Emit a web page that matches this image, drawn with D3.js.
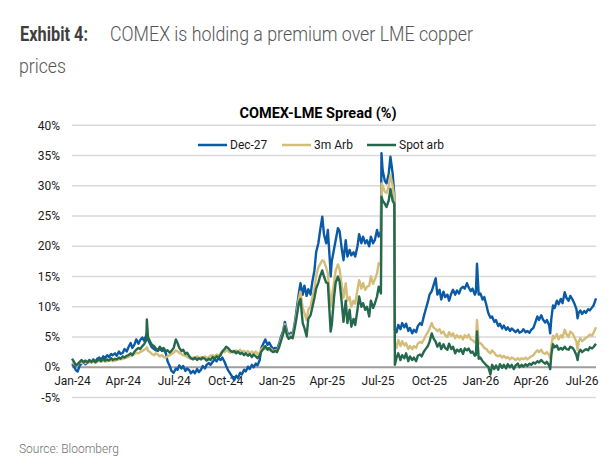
<!DOCTYPE html>
<html><head><meta charset="utf-8">
<script src="https://cdn.jsdelivr.net/npm/d3@7"></script>
<style>
html,body{margin:0;padding:0;background:#fff;}
svg{display:block;font-family:Roboto,"Noto Sans",sans-serif;}
</style></head>
<body><svg id="c" width="616" height="470"></svg>
<script>
// ---- data ----
const dates = [
 "2024-01-01","2024-01-04","2024-01-08","2024-01-11","2024-01-15","2024-01-18","2024-01-22","2024-01-25","2024-01-29","2024-02-01","2024-02-05","2024-02-08","2024-02-12","2024-02-15","2024-02-19","2024-02-22","2024-02-26","2024-02-29","2024-03-04","2024-03-07","2024-03-11","2024-03-14","2024-03-18","2024-03-21","2024-03-25","2024-03-28",
 "2024-04-01","2024-04-04","2024-04-08","2024-04-11","2024-04-15","2024-04-18","2024-04-22","2024-04-25","2024-04-29","2024-05-02","2024-05-06","2024-05-09","2024-05-13","2024-05-14","2024-05-16","2024-05-20","2024-05-23","2024-05-27","2024-05-30","2024-06-03","2024-06-06","2024-06-10","2024-06-13","2024-06-17","2024-06-20","2024-06-24","2024-06-27",
 "2024-07-01","2024-07-05","2024-07-08","2024-07-11","2024-07-15","2024-07-18","2024-07-22","2024-07-25","2024-07-29","2024-08-01","2024-08-05","2024-08-08","2024-08-12","2024-08-15","2024-08-19","2024-08-22","2024-08-26","2024-08-29","2024-09-02","2024-09-05","2024-09-09","2024-09-12","2024-09-16","2024-09-19","2024-09-23","2024-09-26","2024-09-30",
 "2024-10-03","2024-10-07","2024-10-10","2024-10-14","2024-10-17","2024-10-21","2024-10-24","2024-10-28","2024-10-31","2024-11-04","2024-11-07","2024-11-11","2024-11-14","2024-11-18","2024-11-21","2024-11-25","2024-11-28","2024-12-02","2024-12-05","2024-12-09","2024-12-12","2024-12-16","2024-12-19","2024-12-23","2024-12-26","2024-12-30","2025-01-02",
 "2025-01-06","2025-01-09","2025-01-13","2025-01-16","2025-01-20","2025-01-23","2025-01-27","2025-01-30","2025-02-03","2025-02-06","2025-02-10","2025-02-13","2025-02-17","2025-02-20","2025-02-24","2025-02-27","2025-03-03","2025-03-06","2025-03-10","2025-03-13","2025-03-17","2025-03-20","2025-03-24","2025-03-27","2025-03-31",
 "2025-04-03","2025-04-07","2025-04-08","2025-04-10","2025-04-14","2025-04-17","2025-04-21","2025-04-24","2025-04-28","2025-05-01","2025-05-05","2025-05-08","2025-05-12","2025-05-15","2025-05-19","2025-05-22","2025-05-26","2025-05-29","2025-06-02","2025-06-05","2025-06-09","2025-06-12","2025-06-16","2025-06-19","2025-06-23","2025-06-26","2025-06-30","2025-07-03","2025-07-07",
 "2025-07-08","2025-07-10","2025-07-14","2025-07-17","2025-07-21","2025-07-24","2025-07-28","2025-07-31","2025-08-01","2025-08-04","2025-08-07","2025-08-11","2025-08-14","2025-08-18","2025-08-21","2025-08-25","2025-08-28","2025-09-01","2025-09-04","2025-09-08","2025-09-11","2025-09-15","2025-09-18","2025-09-22","2025-09-25","2025-09-29",
 "2025-10-02","2025-10-06","2025-10-09","2025-10-13","2025-10-16","2025-10-20","2025-10-23","2025-10-27","2025-10-30","2025-11-03","2025-11-06","2025-11-10","2025-11-13","2025-11-17","2025-11-20","2025-11-24","2025-11-27","2025-12-01","2025-12-04","2025-12-08","2025-12-11","2025-12-15","2025-12-18","2025-12-22","2025-12-24","2025-12-26","2025-12-29",
 "2026-01-01","2026-01-05","2026-01-08","2026-01-12","2026-01-15","2026-01-19","2026-01-22","2026-01-26","2026-01-29","2026-02-02","2026-02-05","2026-02-09","2026-02-12","2026-02-16","2026-02-19","2026-02-23","2026-02-26","2026-03-02","2026-03-05","2026-03-09","2026-03-12","2026-03-16","2026-03-19","2026-03-23","2026-03-26","2026-03-30",
 "2026-04-02","2026-04-06","2026-04-09","2026-04-13","2026-04-16","2026-04-20","2026-04-23","2026-04-27","2026-04-30","2026-05-04","2026-05-06","2026-05-08","2026-05-11","2026-05-14","2026-05-18","2026-05-21","2026-05-25","2026-05-28","2026-06-01","2026-06-04","2026-06-08","2026-06-11","2026-06-15","2026-06-18","2026-06-22","2026-06-24","2026-06-26","2026-06-29","2026-07-02","2026-07-06","2026-07-09","2026-07-13","2026-07-16","2026-07-20","2026-07-23","2026-07-27"
];
const dec27 = [
 0.5,0.2,-0.5,-0.7,0.3,0.6,0.9,0.5,0.8,1.2,0.8,1.3,0.9,1.4,1.6,1.2,1.8,1.5,2.0,1.7,2.2,2.0,2.3,1.9,2.6,2.2,
 2.4,3.0,2.6,3.3,4.0,3.2,3.8,4.6,3.9,4.5,4.9,4.4,5.3,5.6,4.6,3.8,3.3,3.0,2.8,2.7,3.1,2.7,2.9,2.3,1.0,0.2,-0.6,
 -0.9,-0.2,-0.4,0.3,-0.2,0.2,-0.6,-0.2,-0.5,-1.0,-0.6,-1.0,-0.3,-0.8,-0.4,0.2,-0.2,0.4,0.7,0.4,0.9,1.3,1.0,1.5,1.2,1.6,0.9,
 0.2,-0.6,-1.0,-1.6,-2.1,-1.4,-1.8,-0.9,-1.2,-0.4,-0.7,0.1,-0.3,0.4,0.0,0.6,0.3,1.2,3.2,4.0,4.6,3.7,4.1,3.4,3.0,3.2,2.9,
 4.0,5.0,6.0,7.5,5.9,5.2,5.7,5.3,7.5,9.5,12.2,13.9,12.0,13.5,11.8,12.9,12.0,14.0,16.0,19.0,20.5,22.5,24.9,22.0,20.5,
 22.7,17.0,15.0,17.5,19.5,21.0,23.0,22.5,19.5,17.7,21.0,18.3,19.4,18.5,19.0,18.3,20.0,22.0,20.5,21.6,20.5,21.0,20.0,21.6,20.5,21.0,22.7,21.6,22.5,
 35.4,32.6,30.8,30.4,32.0,34.8,32.0,28.5,6.2,5.8,7.0,6.3,7.3,6.6,7.2,6.0,6.5,5.6,6.2,5.8,6.8,7.3,7.0,8.5,9.5,10.8,
 12.0,12.6,13.5,14.7,12.0,12.8,11.2,12.5,11.6,12.0,11.0,12.2,12.8,12.0,12.7,12.2,13.0,13.3,13.0,13.9,13.2,12.6,13.0,12.0,12.4,17.1,12.0,
 12.2,11.2,11.6,10.2,9.0,8.2,8.4,7.5,7.8,6.8,7.2,6.4,6.9,6.2,6.6,6.0,6.4,6.1,5.8,6.2,5.7,5.9,6.3,5.8,6.0,5.7,
 6.2,6.5,7.3,8.4,7.8,8.6,7.9,7.4,7.8,7.0,5.6,8.0,10.2,9.8,11.0,10.4,11.3,10.6,12.4,11.5,11.0,11.8,11.2,10.6,9.6,8.1,9.0,9.4,8.8,9.3,9.0,9.6,9.4,9.9,10.3,11.4
];
const arb3m = [
 0.8,0.6,0.4,0.6,0.9,0.7,0.8,0.7,0.9,0.8,1.0,0.9,0.8,1.0,1.0,0.9,1.1,0.9,1.0,1.1,1.2,1.0,1.1,1.2,1.3,1.3,
 1.4,1.5,1.6,1.7,1.9,2.0,2.2,2.4,2.3,2.5,2.7,2.9,3.1,3.3,2.7,2.5,2.2,2.0,2.3,2.1,1.8,2.0,1.7,1.6,1.8,2.0,2.2,
 2.4,2.8,2.6,2.4,2.2,2.0,1.9,1.7,1.5,1.4,1.6,1.4,1.8,1.5,1.7,1.5,1.8,1.5,1.7,1.9,2.0,1.8,2.1,1.9,2.3,2.6,2.5,
 2.8,2.6,2.4,2.7,2.4,2.8,2.5,2.9,2.5,2.7,2.4,2.7,2.3,2.6,2.3,2.6,2.2,2.4,3.0,3.3,3.0,3.2,2.8,3.0,2.6,2.8,2.6,
 3.6,4.6,5.7,7.1,5.5,4.9,5.4,5.0,7.0,8.8,11.3,12.5,9.8,9.0,7.8,9.5,10.0,11.5,13.0,15.0,16.5,17.0,17.7,17.5,16.5,
 15.5,11.0,10.0,11.5,14.0,16.0,17.0,16.2,13.5,11.5,13.9,11.0,11.6,10.0,11.0,10.5,12.8,14.4,13.0,13.9,12.8,13.3,13.5,15.0,13.8,14.5,15.5,17.2,17.0,
 30.4,30.0,29.0,28.8,29.9,31.8,30.0,28.2,4.0,3.2,4.5,3.5,4.3,3.6,4.0,3.0,3.5,3.0,3.5,3.2,3.9,4.2,4.0,4.6,5.2,5.8,
 6.4,7.3,6.6,6.3,6.0,6.3,5.6,5.9,5.3,5.0,5.8,5.2,5.6,4.8,5.3,4.9,5.2,4.6,5.3,4.9,5.4,4.6,4.5,4.1,4.4,7.8,3.9,
 4.0,3.6,3.2,3.0,2.6,2.3,2.8,2.4,2.0,1.8,2.0,1.6,1.9,1.5,1.7,1.3,1.6,1.4,1.2,1.5,1.2,1.5,1.3,1.6,1.3,1.6,
 1.8,2.0,2.4,2.8,2.5,2.9,2.4,2.2,2.5,2.0,1.5,3.5,5.2,4.8,5.5,4.6,5.3,4.9,6.2,5.5,5.0,5.9,5.6,5.0,4.2,2.9,4.2,4.8,4.3,4.6,4.9,5.1,5.4,5.2,5.8,6.6
];
const spotArb = [
 1.4,1.0,0.3,0.5,0.9,1.2,0.8,1.1,0.8,1.1,0.9,1.2,0.8,1.1,1.3,1.0,1.4,1.1,1.3,1.1,1.5,1.2,1.4,1.3,1.6,1.4,
 1.8,1.6,1.9,2.0,2.3,2.0,2.6,2.9,3.2,3.0,3.5,3.8,4.5,7.9,5.0,4.2,3.7,3.5,3.1,2.8,3.4,3.0,3.2,2.6,2.8,2.4,2.7,
 3.2,4.6,4.0,3.2,2.7,2.9,2.2,2.4,1.8,1.5,1.3,1.6,1.2,1.5,1.3,1.6,1.4,1.1,1.4,1.2,1.7,1.4,1.8,1.6,2.0,2.6,3.0,
 3.4,3.1,2.8,2.5,2.7,2.3,2.6,2.2,2.4,2.0,2.3,1.9,2.2,1.7,2.1,1.8,1.5,2.0,2.6,3.1,3.5,2.9,3.2,2.7,2.5,2.7,2.5,
 3.4,4.3,5.5,6.8,5.2,4.7,5.0,4.8,6.6,8.2,10.6,11.3,7.3,6.5,5.1,8.0,8.6,9.8,11.5,13.0,14.0,15.0,16.0,15.0,14.0,
 13.9,7.5,5.9,7.0,11.5,14.0,15.0,14.2,10.5,7.5,11.0,7.3,9.5,6.7,8.0,7.0,9.5,11.7,10.0,10.6,9.5,10.0,8.4,11.0,9.8,10.5,11.7,13.3,12.2,
 28.2,27.6,27.0,26.5,27.6,29.5,27.5,27.0,0.4,1.6,2.3,1.2,2.0,1.5,2.3,1.0,1.8,1.2,1.6,1.0,1.9,2.1,1.8,2.6,3.0,3.5,
 4.2,5.6,4.8,4.2,3.4,4.0,3.0,3.8,3.2,2.9,3.9,3.0,3.4,2.3,2.9,2.6,3.0,2.2,3.1,2.8,3.1,2.4,2.6,1.9,2.0,5.9,1.4,
 1.6,1.0,0.7,0.3,0.1,-1.2,0.4,-0.3,0.3,-0.4,0.5,-0.1,0.4,-0.2,0.5,0.0,0.4,-0.3,0.3,0.6,0.0,0.4,0.1,0.5,0.2,0.6,
 0.4,0.8,0.6,1.0,0.8,1.2,0.9,0.6,0.9,0.3,-0.3,2.0,3.8,3.3,3.6,2.9,3.2,2.9,3.4,3.0,2.9,3.4,3.2,2.8,2.0,1.2,2.4,2.9,2.5,2.8,3.0,2.8,3.3,3.1,3.4,3.9
];
const seriesNames = ["Dec-27","3m Arb","Spot arb"];
const seriesColors = ["#0b5aa6","#d4bd78","#24694b"];
const yTicks = [-5,0,5,10,15,20,25,30,35,40];

// ---- chart ----
const svg = d3.select("#c");
const parse = d3.utcParse("%Y-%m-%d");
const D = dates.map(parse);
const x = d3.scaleUtc().domain([parse("2024-01-01"), parse("2026-07-27")]).range([72, 596]);
const y = d3.scaleLinear().domain([-5, 40]).range([397.5, 125.3]);

// header
svg.append("text").attr("x", 20).attr("y", 41).attr("font-size", 20).attr("font-weight", 700)
  .attr("fill", "#3f3f3f").attr("textLength", 68).attr("lengthAdjust", "spacingAndGlyphs").text("Exhibit 4:");
svg.append("text").attr("x", 110).attr("y", 41).attr("font-size", 20).attr("font-weight", 300)
  .attr("fill", "#555").attr("textLength", 363).attr("lengthAdjust", "spacingAndGlyphs")
  .text("COMEX is holding a premium over LME copper");
svg.append("text").attr("x", 19).attr("y", 73).attr("font-size", 20).attr("font-weight", 300)
  .attr("fill", "#555").attr("textLength", 47).attr("lengthAdjust", "spacingAndGlyphs").text("prices");

// chart title
svg.append("text").attr("x", 318).attr("y", 118).attr("text-anchor", "middle")
  .attr("font-size", 15).attr("font-weight", 700).attr("fill", "#000")
  .attr("textLength", 157).attr("lengthAdjust", "spacingAndGlyphs")
  .text("COMEX-LME Spread (%)");

// gridlines
svg.append("g").selectAll("line").data(yTicks).join("line")
  .attr("x1", 72).attr("x2", 596)
  .attr("y1", d => y(d)).attr("y2", d => y(d))
  .attr("stroke", d => d === 0 ? "#9e9e9e" : "#d9d9d9")
  .attr("stroke-width", d => d === 0 ? 2 : 1.5);

// y labels
svg.append("g").selectAll("text").data(yTicks).join("text")
  .attr("x", 60).attr("y", d => y(d)).attr("dy", "0.35em")
  .attr("text-anchor", "end").attr("font-size", 12).attr("fill", "#1a1a1a")
  .text(d => d + "%");

// x axis labels (placed under zero line)
const xAxis = d3.axisBottom(x).ticks(d3.utcMonth.every(3)).tickFormat(d3.utcFormat("%b-%y")).tickSize(0).tickPadding(9);
const gx = svg.append("g").attr("transform", `translate(0,${y(0)})`).call(xAxis);
gx.select(".domain").remove();
gx.selectAll("text").attr("font-size", 12).attr("fill", "#1a1a1a").attr("font-family", "Roboto, sans-serif");

// lines
const seriesData = [dec27, arb3m, spotArb];
const line = d3.line().x((d, i) => x(D[i])).y(d => y(d));
seriesData.forEach((s, k) => {
  if (s.length !== D.length) console.error("length mismatch", k, s.length, D.length);
  svg.append("path").datum(s).attr("d", line)
    .attr("fill", "none").attr("stroke", seriesColors[k])
    .attr("stroke-width", 2.4).attr("stroke-linejoin", "round");
});

// legend
const legX = [198, 282, 367];
const lg = svg.append("g").selectAll("g").data(seriesNames).join("g")
  .attr("transform", (d, i) => `translate(${legX[i]},145)`);
lg.append("line").attr("x1", 0).attr("x2", 29).attr("stroke", (d, i) => seriesColors[i]).attr("stroke-width", 2.5);
lg.append("text").attr("x", 32).attr("dy", "0.35em").attr("font-size", 12).attr("fill", "#1a1a1a").text(d => d);

// source
svg.append("text").attr("x", 19).attr("y", 453).attr("font-size", 12).attr("font-weight", 300)
  .attr("fill", "#6f6f6f").text("Source: Bloomberg");
</script></body></html>
